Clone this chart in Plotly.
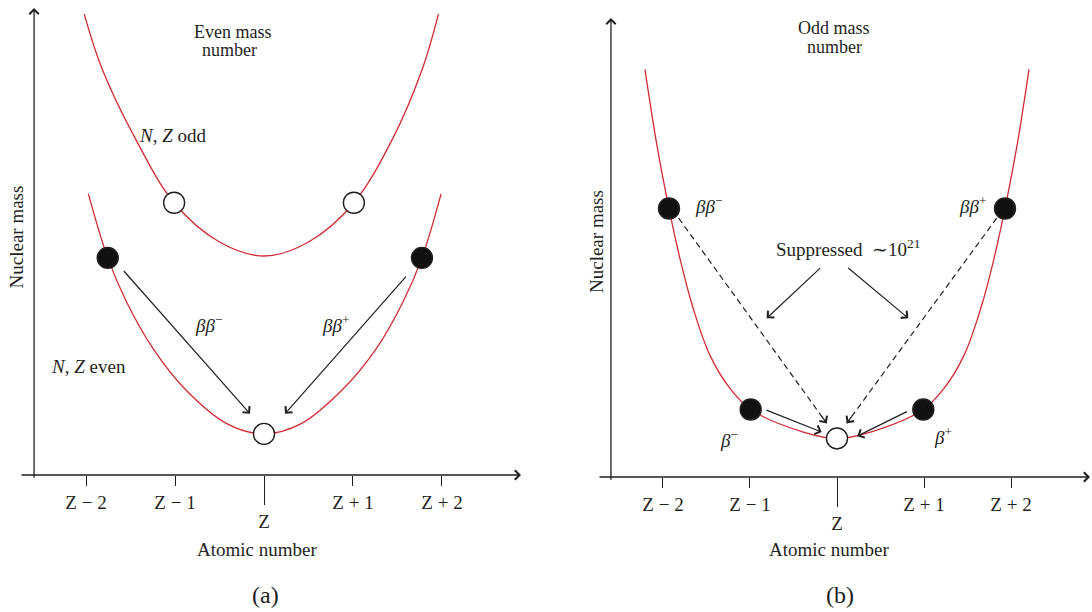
import plotly.graph_objects as go

# ---------------- data ----------------
TICK_VALS = [-2, -1, 1, 2]
TICK_TEXT = ["Z − 2", "Z − 1", "Z + 1", "Z + 2"]
CENTER_VAL = [0]
CENTER_TEXT = ["Z"]

# (a) even mass number: N,Z odd parabola (upper) and N,Z even parabola (lower)
A_ODD_X = [-2.02, -1.82, -1.45, -1.01, -0.5, 0.0, 0.5, 1.01, 1.45, 1.78, 1.96]
A_ODD_Y = [98.7, 87.0, 72.2, 58.3, 49.9, 46.9, 49.9, 58.3, 72.2, 87.0, 98.7]
A_EVEN_X = [-1.974, -1.756, -1.543, -1.244, -0.888, -0.419, 0.0,
            0.419, 0.888, 1.26, 1.56, 1.775, 1.99]
A_EVEN_Y = [60.2, 46.5, 37.0, 27.0, 18.4, 11.0, 8.8,
            11.0, 18.4, 27.0, 37.0, 46.5, 60.2]
A_OPEN_X = [-1.01, 1.01, 0.0]
A_OPEN_Y = [58.3, 58.3, 8.8]
A_FILLED_X = [-1.756, 1.775]
A_FILLED_Y = [46.5, 46.5]
# arrows: (x_from, y_from, x_to, y_to)
A_ARROWS = [(-1.59, 44.0, -0.157, 13.1),
            (1.61, 42.8, 0.236, 13.1)]

# (b) odd mass number
B_X = [-2.207, -2.072, -1.931, -1.80, -1.66, -1.46, -1.23, -0.992, -0.387, 0.0,
       0.387, 0.992, 1.23, 1.46, 1.66, 1.80, 1.931, 2.072, 2.207]
B_Y = [88.8, 72.5, 58.5, 47.2, 37.2, 26.5, 19.3, 14.7, 9.8, 8.4,
       9.8, 14.7, 19.3, 26.5, 37.2, 47.2, 58.5, 72.5, 88.8]
B_FILLED_X = [-1.931, 1.931, -0.992, 0.992]
B_FILLED_Y = [58.5, 58.5, 14.7, 14.7]
B_OPEN_X = [0.0]
B_OPEN_Y = [8.4]
B_DASHED = [(-1.82, 56.4, -0.118, 11.7),
            (1.836, 56.4, 0.112, 11.7)]
B_SOLID = [(-0.176, 45.8, -0.808, 34.6),
           (0.112, 45.8, 0.820, 34.6),
           (-0.828, 14.7, -0.176, 9.8),
           (0.820, 14.4, 0.233, 8.9)]

# ---------------- layout constants ----------------
W, H = 1092, 612
FONT = "Liberation Serif"
INK = "#231f20"
RED = "#d42a33"
FS = 19

A_XR = [-2.742, 2.888]
A_YR = [0, 100]
B_XR = [-2.747, 2.908]
B_YR = [0, 100]
A_YAX = -2.584
B_YAX = -2.598


def py(p):
    return 1 - p / H


fig = go.Figure()


def curve(x, y, xa, ya):
    fig.add_trace(go.Scatter(x=x, y=y, mode="lines", xaxis=xa, yaxis=ya,
                             line=dict(color=RED, width=1.3, shape="spline", smoothing=1.0),
                             hoverinfo="skip", showlegend=False))


def nodes(x, y, xa, ya, filled):
    fig.add_trace(go.Scatter(x=x, y=y, mode="markers", xaxis=xa, yaxis=ya,
                             marker=dict(size=21, color="#111111" if filled else "white",
                                         line=dict(color=INK, width=1.4)),
                             hoverinfo="skip", showlegend=False))


curve(A_ODD_X, A_ODD_Y, "x", "y")
curve(A_EVEN_X, A_EVEN_Y, "x", "y")
curve(B_X, B_Y, "x2", "y2")

# dashed arrow shafts
for (x0, y0, x1, y1) in B_DASHED:
    fig.add_trace(go.Scatter(x=[x0, x1], y=[y0, y1], mode="lines", xaxis="x2", yaxis="y2",
                             line=dict(color=INK, width=1.2, dash="6px,4px"),
                             hoverinfo="skip", showlegend=False))

nodes(A_OPEN_X, A_OPEN_Y, "x", "y", False)
nodes(A_FILLED_X, A_FILLED_Y, "x", "y", True)
nodes(B_FILLED_X, B_FILLED_Y, "x2", "y2", True)
nodes(B_OPEN_X, B_OPEN_Y, "x2", "y2", False)

# invisible carriers so the overlaid centre-tick axes get drawn
fig.add_trace(go.Scatter(x=CENTER_VAL, y=[A_YR[0]], mode="markers", xaxis="x3", yaxis="y",
                         marker=dict(opacity=0), hoverinfo="skip", showlegend=False))
fig.add_trace(go.Scatter(x=CENTER_VAL, y=[B_YR[0]], mode="markers", xaxis="x4", yaxis="y2",
                         marker=dict(opacity=0), hoverinfo="skip", showlegend=False))

ann = []


def arrow(x0, y0, x1, y1, xr, yr, width=1.2, size=1.5):
    ann.append(dict(x=x1, y=y1, ax=x0, ay=y0, xref=xr, yref=yr, axref=xr, ayref=yr,
                    text="", showarrow=True, arrowhead=4, arrowsize=size,
                    arrowwidth=width, arrowcolor=INK, standoff=0, startstandoff=0))


for a in A_ARROWS:
    arrow(*a, "x", "y")
for a in B_SOLID:
    arrow(*a, "x2", "y2")
for (x0, y0, x1, y1) in B_DASHED:
    f = 0.04
    arrow(x1 - (x1 - x0) * f, y1 - (y1 - y0) * f, x1, y1, "x2", "y2")

# axis lines with arrow heads
arrow(A_XR[0], 0, A_XR[1], 0, "x", "y", width=1.3, size=1.4)
arrow(A_YAX, -0.9, A_YAX, A_YR[1], "x", "y", width=1.3, size=1.4)
arrow(B_XR[0], 0, B_XR[1], 0, "x2", "y2", width=1.3, size=1.4)
arrow(B_YAX, -0.9, B_YAX, B_YR[1], "x2", "y2", width=1.3, size=1.4)


def text(t, x, y, xr, yr, size=FS, xanchor="center", yanchor="middle", angle=0):
    ann.append(dict(text=t, x=x, y=y, xref=xr, yref=yr, showarrow=False,
                    xanchor=xanchor, yanchor=yanchor, textangle=angle,
                    font=dict(family=FONT, size=size, color=INK)))


# panel (a) texts
text("Even mass", -0.35, 94.9, "x", "y", size=18)
text("number", -0.39, 90.9, "x", "y", size=18)
text("<i>N</i>, <i>Z</i> odd", -1.43, 72.6, "x", "y", xanchor="left")
text("<i>N</i>, <i>Z</i> even", -2.42, 23.3, "x", "y", xanchor="left")
text("<i>ββ</i><sup>−</sup>", -0.62, 32.4, "x", "y")
text("<i>ββ</i><sup>+</sup>", 0.80, 32.4, "x", "y")
text("Nuclear mass", 0.016, py(237), "paper", "paper", angle=-90)
text("Atomic number", -0.08, py(549), "x", "paper")
text("(a)", 0.02, py(595), "x", "paper", size=24)

# panel (b) texts
text("Odd mass", -0.03, 97.8, "x2", "y2", size=18)
text("number", -0.03, 93.6, "x2", "y2", size=18)
text("<i>ββ</i><sup>−</sup>", -1.66, 59.3, "x2", "y2", xanchor="left")
text("<i>ββ</i><sup>+</sup>", 1.74, 59.3, "x2", "y2", xanchor="right")
text("Suppressed  ∼10<sup>21</sup>", 0.13, 49.8, "x2", "y2")
text("<i>β</i><sup>−</sup>", -1.24, 8.2, "x2", "y2")
text("<i>β</i><sup>+</sup>", 1.22, 9.0, "x2", "y2")
text("Nuclear mass", 597 / W, py(241), "paper", "paper", angle=-90)
text("Atomic number", -0.09, py(549), "x2", "paper")
text("(b)", 0.03, py(595), "x2", "paper", size=24)

tickfont = dict(family=FONT, size=FS, color=INK)


def xax(dom, rng, anchor):
    return dict(domain=dom, range=rng, anchor=anchor, showline=False, showgrid=False,
                zeroline=False, ticks="outside", ticklen=10, tickwidth=1.3, tickcolor=INK,
                tickvals=TICK_VALS, ticktext=TICK_TEXT, tickfont=tickfont, fixedrange=True)


def xov(over, rng, anchor):
    return dict(overlaying=over, range=rng, anchor=anchor, side="bottom", showline=False,
                showgrid=False, zeroline=False, ticks="outside", ticklen=29, tickwidth=1.3,
                tickcolor=INK, tickvals=CENTER_VAL, ticktext=CENTER_TEXT, tickfont=tickfont,
                fixedrange=True)


def yax(dom, rng, anchor):
    return dict(domain=dom, range=rng, anchor=anchor, visible=False, fixedrange=True)


fig.update_layout(
    width=W, height=H,
    margin=dict(l=0, r=0, t=0, b=0),
    paper_bgcolor="white", plot_bgcolor="rgba(0,0,0,0)",
    showlegend=False,
    xaxis=xax([20 / W, 521 / W], A_XR, "y"),
    yaxis=yax([py(475), py(8)], A_YR, "x"),
    xaxis2=xax([598 / W, 1090 / W], B_XR, "y2"),
    yaxis2=yax([py(477), py(18)], B_YR, "x2"),
    xaxis3=xov("x", A_XR, "y"),
    xaxis4=xov("x2", B_XR, "y2"),
    annotations=ann,
)

fig.write_html("out.html", config={"displayModeBar": False},
               post_script="document.body.style.margin='0';document.body.style.overflow='hidden';")
